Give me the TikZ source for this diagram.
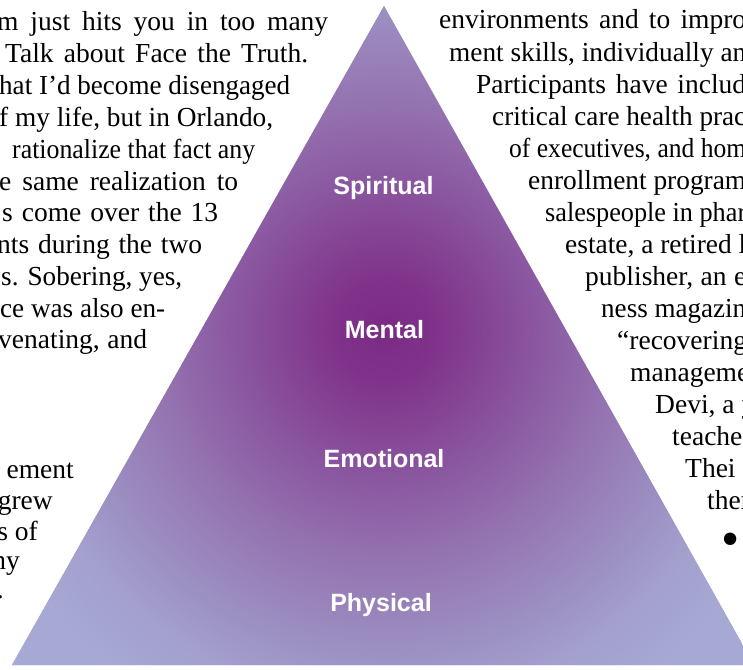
\documentclass[tikz,border=0pt]{standalone}
\usepackage{graphicx}
\usepackage{fontspec}
\setmainfont{Liberation Serif}
\newfontfamily\tierfont{Liberation Sans}

% colours of the pyramid glow, from the deep core outwards
\definecolor{glowA}{HTML}{7B2A85}
\definecolor{glowB}{HTML}{80338A}
\definecolor{glowC}{HTML}{8B58A1}
\definecolor{glowD}{HTML}{9473B0}
\definecolor{glowE}{HTML}{9B8CC0}
\definecolor{glowF}{HTML}{A3A0CE}
\definecolor{glowG}{HTML}{A7A9D5}

% radius in bp; the shaded rectangle's half side corresponds to 25bp
\pgfdeclareradialshading{pyramidglow}{\pgfpoint{0bp}{0bp}}{%
  color(0bp)=(glowA); color(3bp)=(glowB); color(8.75bp)=(glowC);
  color(13bp)=(glowD); color(17.5bp)=(glowE); color(21.25bp)=(glowF);
  color(25bp)=(glowG); color(50bp)=(glowG)}

% a justified line: spaces stretch to fill #1, or the line is narrowed to #1
\newsavebox\fitbox
\newcommand\fitline[2]{%
  \sbox\fitbox{#2}%
  \ifdim\wd\fitbox>#1\relax
    \pgfmathsetmacro\fitratio{#1/\wd\fitbox}%
    \scalebox{\fitratio}[1]{\usebox\fitbox}%
  \else
    \makebox[#1][s]{#2}%
  \fi}

\begin{document}
\begin{tikzpicture}[x=1pt,y=-1pt,
  body/.style={font=\fontsize{27.5}{32}\selectfont, inner sep=0pt, text=black},
  leftline/.style={body, anchor=base west},
  leftend/.style={body, anchor=base east},
  rightline/.style={body, anchor=base west},
  tier/.style={font=\tierfont\bfseries\fontsize{25}{30}\selectfont,
    text=white, inner sep=0pt, anchor=base}]
\useasboundingbox (0,0) rectangle (743,669);
\clip (0,0) rectangle (743,669);

% the pyramid
\coordinate (apex) at (384,6);
\coordinate (baseL) at (12,665);
\coordinate (baseR) at (754,665);
\begin{scope}
  \clip (apex) -- (baseL) -- (baseR) -- cycle;
  \fill[glowG] (0,0) rectangle (760,669);
  \shade[shading=pyramidglow] (-55,-110) rectangle (825,770);
\end{scope}

% tier labels
\node[tier] (spiritual) at (383.5,194) {Spiritual};
\node[tier] (mental)    at (384.5,338) {Mental};
\node[tier] (emotional) at (384,467)   {Emotional};
\node[tier] (physical)  at (381,611)   {Physical};

% left column, running against the pyramid's left side
\node[leftline] (l1)  at (-3,31)  {\fitline{331pt}{m just hits you in too many}};
\node[leftline] (l2)  at (5,63)   {\fitline{303pt}{Talk about Face the Truth.}};
\node[leftline] (l3)  at (-1,94)  {\fitline{291pt}{hat I’d become disengaged}};
\node[leftline] (l4)  at (-1,126) {\fitline{274pt}{f my life, but in Orlando,}};
\node[leftline] (l5)  at (12,158) {\fitline{243pt}{rationalize that fact any}};
\node[leftline] (l6)  at (-1,190) {\fitline{239pt}{e same realization to}};
\node[leftline] (l7)  at (2,221)  {\fitline{216pt}{s come over the 13}};
\node[leftline] (l8)  at (-3,253) {\fitline{205pt}{nts during the two}};
\node[leftline] (l9)  at (1,285)  {\fitline{181pt}{s. Sobering, yes,}};
\node[leftline] (l10) at (0,317)  {\fitline{165pt}{ce was also en-}};
\node[leftline] (l11) at (-2,348) {\fitline{149pt}{venating, and}};
\node[leftend]  (l12) at (74,478) {ement};
\node[leftend]  (l13) at (53,509) {grew};
\node[leftend]  (l14) at (38,540) {s of};
\node[leftend]  (l15) at (20,569) {ny};
\node[leftend]  (l16) at (4,598)  {.};

% right column, running against the pyramid's right side
\node[rightline] (r1)  at (439,29)  {\fitline{307pt}{environments and to impro}};
\node[rightline] (r2)  at (449,61)  {\fitline{297pt}{ment skills, individually an}};
\node[rightline] (r3)  at (476,93)  {\fitline{270pt}{Participants have includ}};
\node[rightline] (r4)  at (492,125) {\fitline{254pt}{critical care health prac}};
\node[rightline] (r5)  at (509,157) {\fitline{237pt}{of executives, and hom}};
\node[rightline] (r6)  at (528,189) {\fitline{218pt}{enrollment program}};
\node[rightline] (r7)  at (545,221) {\fitline{201pt}{salespeople in phar}};
\node[rightline] (r8)  at (565,253) {\fitline{181pt}{estate, a retired l}};
\node[rightline] (r9)  at (585,285) {\fitline{161pt}{publisher, an e}};
\node[rightline] (r10) at (601,317) {\fitline{145pt}{ness magazin}};
\node[rightline] (r11) at (617,349) {“recovering};
\node[rightline] (r12) at (630,381) {manageme};
\node[rightline] (r13) at (655,413) {Devi, a y};
\node[rightline] (r14) at (672,445) {teache};
\node[rightline] (r15) at (685,477) {Thei};
\node[rightline] (r16) at (707,509) {ther};
\node[rightline, font=\fontsize{52}{56}\selectfont] (r17) at (721,556) {•};
\end{tikzpicture}
\end{document}
